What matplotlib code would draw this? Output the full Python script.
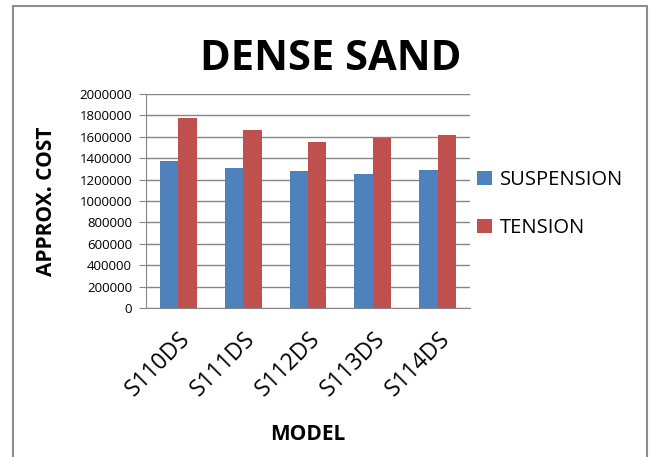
import numpy as np
import matplotlib
matplotlib.use("Agg")
import matplotlib.pyplot as plt
from matplotlib.patches import Rectangle

models = ["S110DS", "S111DS", "S112DS", "S113DS", "S114DS"]
suspension = [1375000, 1305000, 1280000, 1255000, 1290000]
tension = [1780000, 1660000, 1550000, 1590000, 1620000]

plt.rcParams['font.family'] = ['Open Sans', 'DejaVu Sans']

fig = plt.figure(figsize=(6.51, 4.57), dpi=100)
W, H = 651, 457
ax = fig.add_axes([146 / W, 1 - 308 / H, (470 - 146) / W, (308 - 94) / H])

# outer chart frame (bottom edge is cut off in the reference)
fig.patches.append(Rectangle((13 / W, -0.05), (647 - 13) / W, 1.05 - 6 / H,
                             transform=fig.transFigure, fill=False,
                             edgecolor='#8c8c8c', linewidth=1.5))

x = np.arange(len(models))
bw = 0.285
ax.bar(x - bw / 2, suspension, bw, color='#4f81bd', label='SUSPENSION', zorder=3)
ax.bar(x + bw / 2, tension, bw, color='#c0504d', label='TENSION', zorder=3)

ax.set_xlim(-0.5, len(models) - 0.5)
ax.set_ylim(0, 2000000)
ax.set_yticks(np.arange(0, 2000001, 200000))
ax.set_yticklabels([str(v) for v in range(0, 2000001, 200000)], fontsize=9.5)
ax.yaxis.grid(True, color='#868686', linewidth=1, zorder=0)
ax.set_xticks(x)
ax.set_xticklabels(models, rotation=45, ha='right', rotation_mode='anchor', fontsize=16.5)
ax.tick_params(axis='x', length=0, pad=14)
ax.tick_params(axis='y', length=5, color='#868686', pad=5)

for s in ['top', 'right']:
    ax.spines[s].set_visible(False)
for s in ['left', 'bottom']:
    ax.spines[s].set_color('#868686')

ax.set_ylabel('APPROX. COST', fontsize=15, fontweight='bold', labelpad=16)
ax.set_xlabel('MODEL', fontsize=15, fontweight='bold', labelpad=16)
fig.text(331 / W, 1 - 60 / H, 'DENSE SAND', fontsize=30, fontweight='bold',
         ha='center', va='center')

fig.legend(loc='center left', bbox_to_anchor=(459 / W, 1 - 204 / H), frameon=False,
           fontsize=14.5, handlelength=0.75, handleheight=0.75, labelspacing=1.4,
           handletextpad=0.4)

fig.savefig('out.png', dpi=100)
